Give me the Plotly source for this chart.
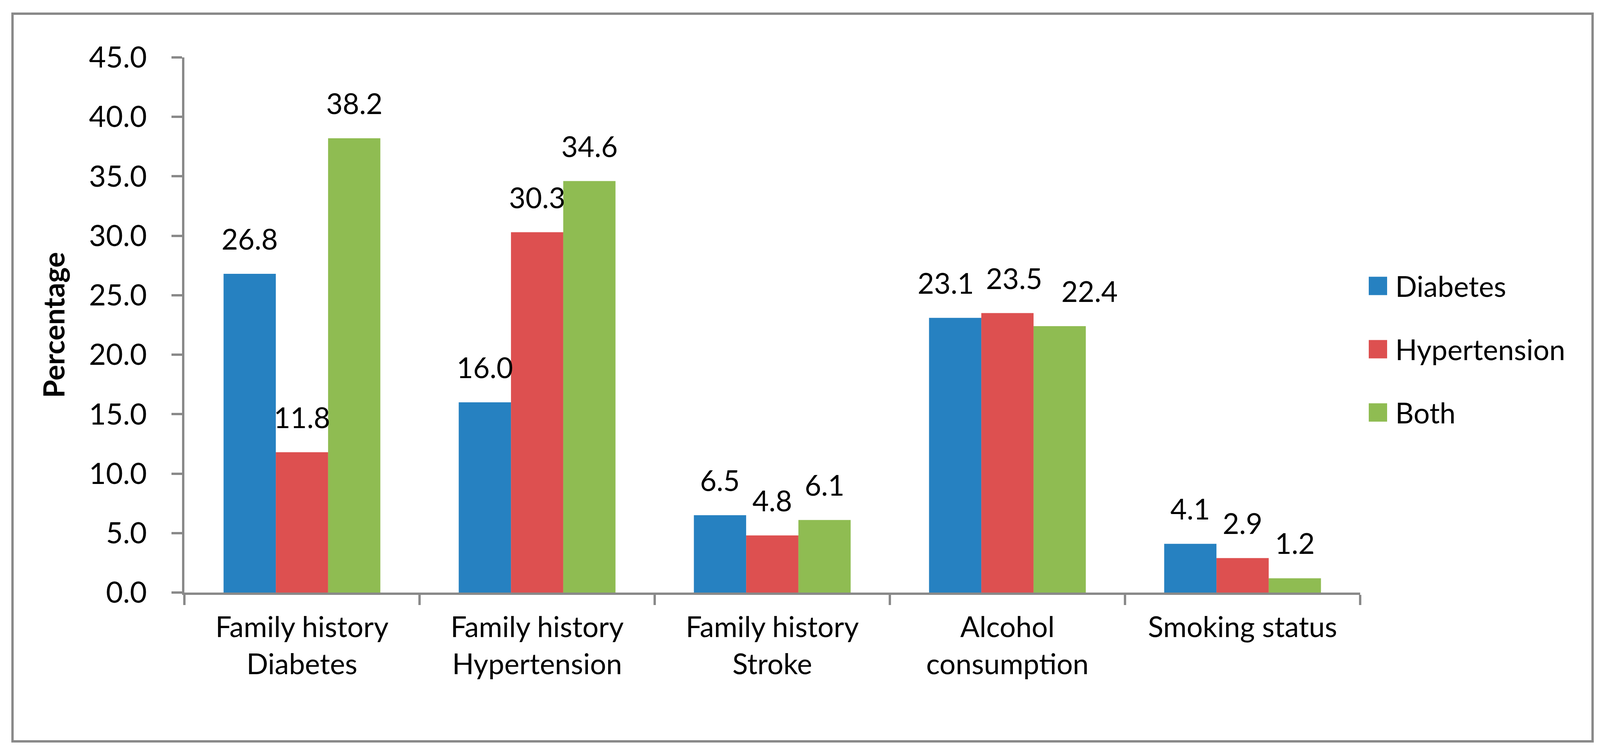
import plotly.graph_objects as go

categories = ['Family history<br>Diabetes', 'Family history<br>Hypertension',
              'Family history<br>Stroke', 'Alcohol<br>consumption', 'Smoking status']
series_names = ['Diabetes', 'Hypertension', 'Both']
diabetes = [26.8, 16.0, 6.5, 23.1, 4.1]
hypertension = [11.8, 30.3, 4.8, 23.5, 2.9]
both = [38.2, 34.6, 6.1, 22.4, 1.2]
colors = ['#2681C1', '#DD5050', '#8FBC52']
y_ticks = [0, 5, 10, 15, 20, 25, 30, 35, 40, 45]

W, H = 4108, 1915
L, R, T, B = 464, 634, 139, 406
PW, PH = W - L - R, H - T - B
FONT = 'Lato'
GREY = '#898989'

# labels that were nudged sideways in the original so they don't collide
label_nudge = {(0, 3): -24, (1, 3): 17, (2, 3): 76}

def px(x):
    return (x - L) / PW

def py(y):
    return (H - B - y) / PH

fig = go.Figure()
all_vals = [diabetes, hypertension, both]
for name, vals, c in zip(series_names, all_vals, colors):
    fig.add_trace(go.Bar(x=categories, y=vals, name=name, marker=dict(color=c, line=dict(width=0))))

# data labels above bars (Excel style, offset a bit above the bar top)
bar_px = PW / len(categories) * (2 / 3) / 3
for i, vals in enumerate(all_vals):
    for j, (cat, v) in enumerate(zip(categories, vals)):
        fig.add_annotation(x=cat, y=v, xref='x', yref='y', text=f'{v:.1f}', showarrow=False,
                           xshift=(i - 1) * bar_px + label_nudge.get((i, j), 0), yshift=44,
                           yanchor='bottom', font=dict(family=FONT, size=73, color='black'))

# legend drawn by hand so the swatches can be large
legend_y = [724, 886, 1048]
for name, c, ly in zip(series_names, colors, legend_y):
    fig.add_shape(type='rect', xref='paper', yref='paper', x0=px(3496), x1=px(3543),
                  y0=py(ly + 23.5), y1=py(ly - 23.5), fillcolor=c, line=dict(width=0))
    fig.add_annotation(xref='paper', yref='paper', x=px(3562), y=py(ly), text=name,
                       showarrow=False, xanchor='left', yanchor='middle',
                       font=dict(family=FONT, size=73, color='black'))

# outer frame
fig.add_shape(type='rect', xref='paper', yref='paper', x0=px(24), x1=px(4069),
              y0=py(1890), y1=py(27), line=dict(color=GREY, width=6), layer='below')

fig.update_layout(
    width=W, height=H, autosize=False,
    margin=dict(l=L, r=R, t=T, b=B),
    barmode='group', bargap=1 / 3, bargroupgap=0,
    showlegend=False,
    plot_bgcolor='white', paper_bgcolor='white',
    font=dict(family=FONT, color='black'),
)
fig.update_xaxes(showline=True, linecolor=GREY, linewidth=6, ticks='outside', tickson='boundaries',
                 ticklen=26, tickwidth=6, tickcolor=GREY, showgrid=False, zeroline=False,
                 tickfont=dict(family=FONT, size=73, color='black'), ticklabelstandoff=20)
fig.update_yaxes(range=[0, 45], tickvals=y_ticks, tickformat='.1f', showline=True, linecolor=GREY,
                 linewidth=6, ticks='outside', ticklen=27, tickwidth=6, tickcolor=GREY,
                 showgrid=False, zeroline=False, tickfont=dict(family=FONT, size=75, color='black'),
                 ticklabelstandoff=48,
                 title=dict(text='<b>Percentage</b>', standoff=40,
                            font=dict(family=FONT, size=75, color='black')))

fig.write_html('out.html')
